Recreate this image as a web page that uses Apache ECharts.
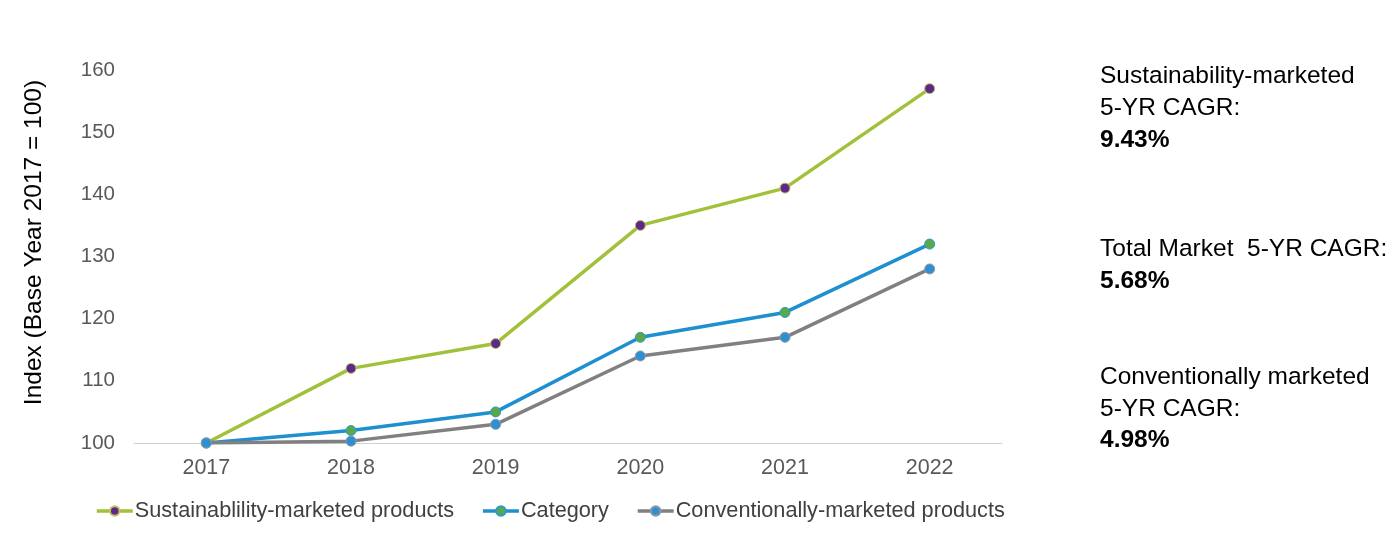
<!DOCTYPE html>
<html>
<head>
<meta charset="utf-8">
<script src="https://cdn.jsdelivr.net/npm/echarts@6/dist/echarts.min.js"></script>
<style>
  html, body { margin: 0; padding: 0; background: #fff; }
  #chart { width: 1400px; height: 537px; }
</style>
</head>
<body>
<div id="chart"></div>
<script>
// values
var years = ['2017', '2018', '2019', '2020', '2021', '2022'];
var sustainability = [100, 112, 116, 135, 141, 157];
var category = [100, 102, 105, 117, 121, 132];
var conventional = [100, 100.3, 103, 114, 117, 128];
var yTicks = [100, 110, 120, 130, 140, 150, 160];

var font = 'Liberation Sans, Arial, sans-serif';

var chart = echarts.init(document.getElementById('chart'));

function lineSeries(name, data, lineColor, dotColor, dotBorder) {
  return {
    name: name,
    type: 'line',
    data: data,
    symbol: 'circle',
    symbolSize: 10,
    lineStyle: { color: lineColor, width: 3.5 },
    itemStyle: { color: dotColor, borderColor: dotBorder, borderWidth: 1 },
    color: lineColor,
    animation: false
  };
}

// right-hand notes: [text, centre y, bold]
var notes = [
  ['Sustainability-marketed', 76, false],
  ['5-YR CAGR:', 108, false],
  ['9.43%', 140, true],
  ['Total Market  5-YR CAGR:', 249, false],
  ['5.68%', 281, true],
  ['Conventionally marketed', 377, false],
  ['5-YR CAGR:', 409, false],
  ['4.98%', 440, true]
];

var option = {
  backgroundColor: '#fff',
  textStyle: { fontFamily: font },
  grid: { left: 134, right: 398, top: 70, bottom: 94 },
  legend: {
    left: 90,
    top: 495,
    itemWidth: 36,
    itemHeight: 12,
    itemGap: 27,
    lineStyle: { width: 3.5 },
    textStyle: { fontSize: 21.7, color: '#404040', fontFamily: font, padding: [0, 0, 0, -3] },
    data: ['Sustainablility-marketed products', 'Category', 'Conventionally-marketed products']
  },
  xAxis: {
    type: 'category',
    data: years,
    boundaryGap: true,
    axisLine: { lineStyle: { color: '#d0d0d0', width: 1 } },
    axisTick: { show: false },
    axisLabel: { fontSize: 21.5, color: '#595959', margin: 14 }
  },
  yAxis: {
    type: 'value',
    min: yTicks[0],
    max: yTicks[yTicks.length - 1],
    interval: 10,
    name: 'Index (Base Year 2017 = 100)',
    nameLocation: 'middle',
    nameGap: 87,
    nameTextStyle: { fontSize: 24.5, color: '#000', padding: [0, 0, 0, 28] },
    splitLine: { show: false },
    axisLine: { show: false },
    axisTick: { show: false },
    axisLabel: { fontSize: 20.5, color: '#595959', margin: 19 }
  },
  series: [
    lineSeries('Sustainablility-marketed products', sustainability, '#a2c13a', '#5b2a86', '#c9c06a'),
    lineSeries('Category', category, '#1e8fcf', '#5aa848', '#2a9ad0'),
    lineSeries('Conventionally-marketed products', conventional, '#808080', '#2f8fd0', '#8a9aa8')
  ],
  graphic: notes.map(function (n) {
    return {
      type: 'text',
      x: 1100,
      y: n[1],
      style: {
        text: n[0],
        font: (n[2] ? 'bold ' : '') + '24.5px ' + font,
        fill: '#000',
        verticalAlign: 'middle'
      }
    };
  })
};

chart.setOption(option);
</script>
</body>
</html>
